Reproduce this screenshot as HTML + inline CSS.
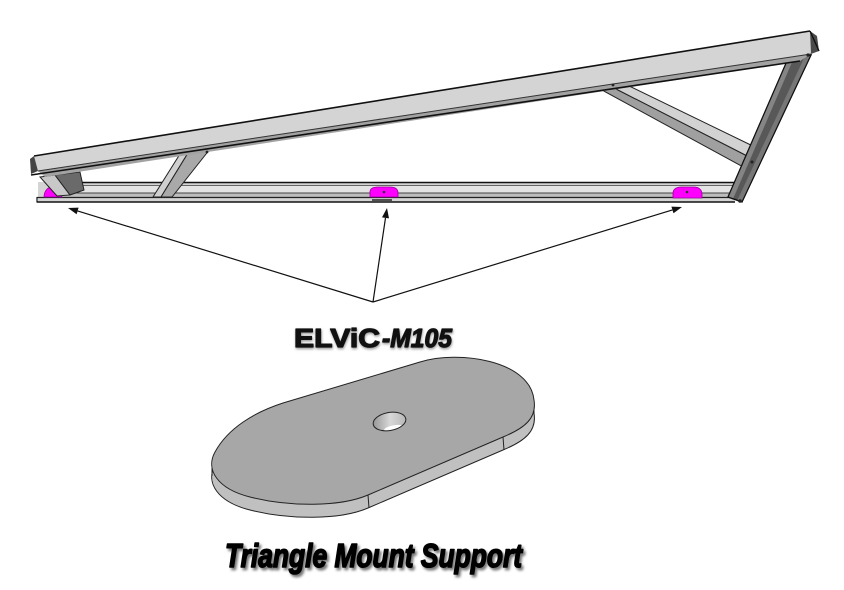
<!DOCTYPE html>
<html><head><meta charset="utf-8"><style>
html,body{margin:0;padding:0;background:#fff;}
svg{display:block;}
</style></head><body>
<svg width="844" height="590" viewBox="0 0 844 590" xmlns="http://www.w3.org/2000/svg">
<defs>
<filter id="blur" x="-5%" y="-20%" width="110%" height="140%"><feGaussianBlur stdDeviation="1.4"/></filter>
<path id="plateTop" d="M283,403 L420,362 C458,350 530,360 534,400 C537,418 525,428 503,437 L368,495 C340,507 290,507 250,497 C218,489 205,470 215,452 C228,428 255,412 283,403 Z"/>
<clipPath id="holeClip"><ellipse cx="389.5" cy="421.5" rx="16.5" ry="9" transform="rotate(-10 389.5 421.5)"/></clipPath>
<linearGradient id="holeG" x1="0" y1="0" x2="1" y2="0">
<stop offset="0" stop-color="#8a8a8a"/><stop offset="0.5" stop-color="#d8d8d8"/><stop offset="1" stop-color="#b0b0b0"/>
</linearGradient>
</defs>

<!-- bottom rail -->
<rect x="38" y="182" width="697" height="20" fill="#d4d4d4"/>
<rect x="60" y="185" width="675" height="8" fill="#e4e4e4"/>
<rect x="60" y="193" width="675" height="4.5" fill="#bdbdbd"/>
<line x1="60" y1="182.5" x2="735" y2="182.5" stroke="#111" stroke-width="1.5"/>
<line x1="60" y1="185.5" x2="735" y2="185.5" stroke="#666" stroke-width="1"/>
<line x1="60" y1="193" x2="735" y2="193" stroke="#444" stroke-width="1"/>
<line x1="37" y1="197.5" x2="735" y2="197.5" stroke="#222" stroke-width="1.3"/>
<line x1="37" y1="202" x2="735" y2="202" stroke="#111" stroke-width="1.6"/>
<line x1="37" y1="197" x2="37" y2="202.5" stroke="#111" stroke-width="1.2"/>

<!-- magenta pads -->
<path d="M44,197 C44,191 48,186 55,186 L62,197 Z" fill="#ff00ff" stroke="#990099" stroke-width="0.8"/>
<path d="M370,197 L370,192 C370,188.5 373,187 378,187 L390,187 C395,187 398,189 398,193 L398,197 Z" fill="#ff00ff" stroke="#990099" stroke-width="0.8"/>
<circle cx="384" cy="192" r="1.3" fill="#333"/>
<line x1="372" y1="200" x2="392" y2="200" stroke="#000" stroke-width="1.2"/>
<path d="M673,198 L673,193 C673,189.5 676,187 681,187 L694,187 C699,187 702,190 702,194 L702,198 Z" fill="#ff00ff" stroke="#990099" stroke-width="0.8"/>
<circle cx="687" cy="192" r="1.3" fill="#333"/>

<!-- left end brace -->
<path d="M40,177 L55,175 L70,195 L57,196 Z" fill="#c8c8c8" stroke="#222" stroke-width="1"/>
<path d="M55,175 L80,172 L84,190 L70,195 Z" fill="#6a6a6a" stroke="#222" stroke-width="1"/>

<!-- middle brace -->
<path d="M180,154 L188,153 L161,197 L153,197 Z" fill="#d0d0d0" stroke="#222" stroke-width="1"/>
<path d="M188,153 L210,149 L172,197 L161,197 Z" fill="#a9a9a9" stroke="#222" stroke-width="1"/>

<!-- right diagonal brace -->
<path d="M625,84 L757,148 L751,158 L612,87 Z" fill="#d2d2d2" stroke="#222" stroke-width="1"/>
<path d="M612,87 L751,158 L745,168 L600,89 Z" fill="#a0a0a0" stroke="#222" stroke-width="1"/>

<!-- right post -->
<path d="M787,61 L811,55 L742,202 L728,197 Z" fill="#585858" stroke="#111" stroke-width="1.2"/>
<path d="M787,61 L793,60 L733,199 L728,197 Z" fill="#858585"/>
<path d="M805,56 L811,55 L742,202 L737,201 Z" fill="#777"/>
<path d="M787,61 L811,55 L742,202 L728,197 Z" fill="none" stroke="#111" stroke-width="1.2"/>
<circle cx="740" cy="201" r="1.8" fill="#222"/>
<circle cx="752" cy="162" r="1.5" fill="#222"/>

<!-- top beam -->
<path d="M34,156 L810,31 L811,54 L38,171 Z" fill="#d4d4d4"/>
<path d="M38,171 L811,54 L800,61 L45,177 Z" fill="#a2a2a2"/>
<path d="M810,31 L817,36 L819,51 L811,54 Z" fill="#4a4a4a"/>
<path d="M34,156 L30,159 L31,174 L38,171 Z" fill="#444"/>
<line x1="34" y1="156" x2="810" y2="31" stroke="#111" stroke-width="1.6"/>
<line x1="38" y1="171" x2="811" y2="54" stroke="#333" stroke-width="1"/>
<line x1="31" y1="175" x2="800" y2="61" stroke="#111" stroke-width="1.6"/>
<line x1="810" y1="31" x2="819" y2="51" stroke="#111" stroke-width="1.4"/>
<circle cx="207" cy="152" r="1.4" fill="#222"/>
<circle cx="613" cy="85" r="1.4" fill="#222"/>
<circle cx="808" cy="55" r="1.6" fill="#222"/>

<!-- arrows -->
<g stroke="#111" stroke-width="1.2" fill="none">
<line x1="373" y1="302" x2="77.6" y2="210.9"/>
<line x1="373" y1="302" x2="385.5" y2="217.9"/>
<line x1="373" y1="302" x2="672.4" y2="209.9"/>
</g>
<path d="M68,208 L78.6,207.6 L76.6,214.3 Z" fill="#111"/>
<path d="M387,208 L389,218.4 L382,217.4 Z" fill="#111"/>
<path d="M682,207 L673.5,213.3 L671.4,206.6 Z" fill="#111"/>

<!-- ELViC-M105 label -->
<g font-family="Liberation Sans, sans-serif" font-weight="bold" font-size="26">
<text x="294.5" y="348.5" fill="#999" stroke="#999" stroke-width="1.2" filter="url(#blur)" textLength="86" lengthAdjust="spacingAndGlyphs">ELViC</text>
<text x="294" y="347" fill="#111" stroke="#111" stroke-width="1.2" stroke-linejoin="round" textLength="86" lengthAdjust="spacingAndGlyphs">ELViC</text>
<text x="382.5" y="348.5" fill="#999" stroke="#999" stroke-width="1.2" font-style="italic" filter="url(#blur)" textLength="70" lengthAdjust="spacingAndGlyphs">-M105</text>
<text x="382" y="347" fill="#111" stroke="#111" stroke-width="1.2" stroke-linejoin="round" font-style="italic" textLength="70" lengthAdjust="spacingAndGlyphs">-M105</text>
</g>

<!-- plate side (thickness) -->
<g fill="#c0c0c0">
<use href="#plateTop" transform="translate(0,2)"/>
<use href="#plateTop" transform="translate(0,4)"/>
<use href="#plateTop" transform="translate(0,6)"/>
<use href="#plateTop" transform="translate(0,8)"/>
<use href="#plateTop" transform="translate(0,10)"/>
<use href="#plateTop" transform="translate(0,12)"/>
</g>
<use href="#plateTop" transform="translate(0,13)" fill="#c0c0c0" stroke="#222" stroke-width="1"/>
<line x1="212" y1="463" x2="212" y2="476" stroke="#222" stroke-width="1"/>
<line x1="534" y1="400" x2="534" y2="413" stroke="#222" stroke-width="1"/>
<!-- plate top -->
<use href="#plateTop" fill="#a7a7a7" stroke="#222" stroke-width="1"/>
<line x1="503" y1="437" x2="504" y2="450" stroke="#222" stroke-width="1"/>
<line x1="368" y1="495" x2="369" y2="508" stroke="#222" stroke-width="1"/>
<!-- hole -->
<g clip-path="url(#holeClip)">
<rect x="370" y="410" width="40" height="24" fill="url(#holeG)"/>
<ellipse cx="394" cy="428.5" rx="10" ry="3.2" transform="rotate(-10 394 428.5)" fill="#fff"/>
</g>
<ellipse cx="389.5" cy="421.5" rx="16.5" ry="9" transform="rotate(-10 389.5 421.5)" fill="none" stroke="#222" stroke-width="1"/>

<!-- Triangle Mount Support -->
<g font-family="Liberation Sans, sans-serif" font-weight="900" font-style="italic" font-size="33">
<text x="227" y="569.5" fill="#777" stroke="#777" stroke-width="1.6" filter="url(#blur)" textLength="297" lengthAdjust="spacingAndGlyphs">Triangle Mount Support</text>
<text x="225" y="567" fill="#000" stroke="#000" stroke-width="1.6" stroke-linejoin="round" textLength="297" lengthAdjust="spacingAndGlyphs">Triangle Mount Support</text>
</g>
</svg>
</body></html>
